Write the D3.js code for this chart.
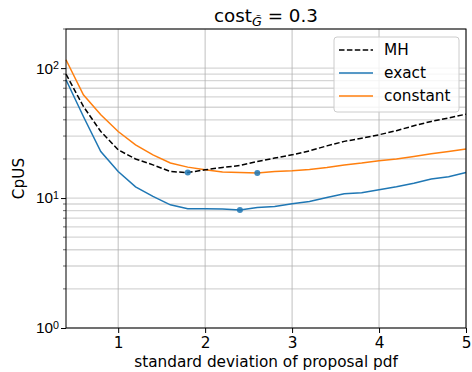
<!DOCTYPE html>
<html>
<head>
<meta charset="utf-8">
<script src="https://cdn.jsdelivr.net/npm/d3@7"></script>
<style>
  body { margin: 0; background: #fff; }
  svg { font-family: "DejaVu Sans", sans-serif; }
</style>
</head>
<body>
<svg id="chart" width="472" height="372"></svg>
<script>
var sigma = [0.4, 0.6, 0.8, 1.0, 1.2, 1.4, 1.6, 1.8, 2.0, 2.2, 2.4, 2.6,
             2.8, 3.0, 3.2, 3.4, 3.6, 3.8, 4.0, 4.2, 4.4, 4.6, 4.8, 5.0];
var mhValues = [89.9, 50.7, 32.5, 23.5, 20.0, 18.0, 16.0, 15.7, 16.5, 17.2, 17.8, 19.1,
                20.3, 21.5, 23.1, 25.2, 27.3, 28.9, 30.7, 33.0, 36.0, 38.9, 41.3, 44.2];
var exactValues = [81.3, 42.4, 22.8, 16.0, 12.2, 10.3, 8.87, 8.27, 8.27, 8.25, 8.09, 8.47,
                   8.6, 9.04, 9.4, 10.1, 10.8, 11.0, 11.6, 12.2, 13.0, 14.0, 14.6, 15.7];
var constantValues = [116, 62.4, 43.8, 32.5, 25.7, 21.5, 18.6, 17.3, 16.5, 15.9, 15.7, 15.6,
                      16.0, 16.2, 16.6, 17.2, 18.0, 18.6, 19.4, 20.0, 20.9, 21.9, 22.8, 23.9];
var seriesNames = ["MH", "exact", "constant"];
var xTicks = [1, 2, 3, 4, 5];
var yMajorTicks = [1, 10, 100];

(function () {
  var margin = {top: 29, right: 6, bottom: 44, left: 66};
  var width = 472 - margin.left - margin.right;
  var height = 372 - margin.top - margin.bottom;
  var fs = 15.3;

  var svg = d3.select("#chart");
  var vis = svg.append("g")
      .attr("transform", "translate(" + margin.left + "," + margin.top + ")");

  var xscale = d3.scaleLinear().domain([0.4, 5]).range([0, width]);
  var yscale = d3.scaleLog().domain([1, 200]).range([height, 0]);

  var minorTicks = [];
  [1, 10, 100].forEach(function (base) {
    for (var k = 2; k <= 9; k++) {
      if (base * k <= 200) minorTicks.push(base * k);
    }
  });
  var allY = yMajorTicks.concat(minorTicks);

  // horizontal grid (major + minor)
  vis.append("g").selectAll("line")
    .data(allY)
    .enter().append("line")
      .attr("x1", 0).attr("x2", width)
      .attr("y1", function (d) { return yscale(d); })
      .attr("y2", function (d) { return yscale(d); })
      .attr("stroke", "#d6d6d6")
      .attr("stroke-width", 1.3);

  // vertical grid
  vis.append("g").selectAll("line")
    .data(xTicks)
    .enter().append("line")
      .attr("x1", function (d) { return xscale(d); })
      .attr("x2", function (d) { return xscale(d); })
      .attr("y1", 0).attr("y2", height)
      .attr("stroke", "#b0b0b0")
      .attr("stroke-width", 0.8);

  var colours = {"MH": "#000000", "exact": "#1f77b4", "constant": "#ff7f0e"};
  var dashes = {"MH": "5.5,2.4", "exact": null, "constant": null};
  var values = {"MH": mhValues, "exact": exactValues, "constant": constantValues};

  var line = d3.line()
    .x(function (d) { return xscale(d[0]); })
    .y(function (d) { return yscale(d[1]); });

  ["exact", "constant", "MH"].forEach(function (name) {
    var pts = sigma.map(function (s, i) { return [s, values[name][i]]; });
    vis.append("path")
      .datum(pts)
      .attr("d", line)
      .attr("fill", "none")
      .attr("stroke", colours[name])
      .attr("stroke-width", 1.5)
      .attr("stroke-dasharray", dashes[name]);
  });

  // minima markers
  var minima = seriesNames.map(function (name) {
    var v = values[name];
    var i = d3.minIndex(v);
    return [sigma[i], v[i]];
  });
  vis.append("g").selectAll("circle")
    .data(minima)
    .enter().append("circle")
      .attr("cx", function (d) { return xscale(d[0]); })
      .attr("cy", function (d) { return yscale(d[1]); })
      .attr("r", 3)
      .attr("fill", "#1f77b4")
      .attr("fill-opacity", 0.85);

  // axes
  var xaxis = d3.axisBottom(xscale).tickValues(xTicks).tickSize(5).tickPadding(4)
    .tickFormat(d3.format("d"));
  var gx = vis.append("g")
    .attr("transform", "translate(0," + height + ")")
    .call(xaxis);
  gx.select(".domain").remove();
  gx.selectAll("text").attr("font-size", fs).attr("fill", "#000")
    .attr("font-family", "DejaVu Sans");

  var yaxis = d3.axisLeft(yscale).tickValues(yMajorTicks).tickSize(5).tickPadding(4)
    .tickFormat("");
  var gy = vis.append("g").call(yaxis);
  gy.select(".domain").remove();
  gy.selectAll(".tick").each(function (d) {
    var t = d3.select(this).append("text")
      .attr("x", -7).attr("dy", "0.32em")
      .attr("text-anchor", "end")
      .attr("font-size", fs).attr("fill", "#000");
    t.append("tspan").text("10");
    t.append("tspan").attr("dy", "-0.45em").attr("font-size", 10.7)
      .text(String(Math.round(Math.log10(d))));
  });
  vis.append("g").selectAll("line")
    .data(minorTicks)
    .enter().append("line")
      .attr("x1", -3).attr("x2", 0)
      .attr("y1", function (d) { return yscale(d); })
      .attr("y2", function (d) { return yscale(d); })
      .attr("stroke", "#000").attr("stroke-width", 0.6);

  // frame
  vis.append("rect")
    .attr("width", width).attr("height", height)
    .attr("fill", "none").attr("stroke", "#000").attr("stroke-width", 1);

  // legend
  var lg = vis.append("g").attr("transform", "translate(" + (width - 132) + ",8)");
  lg.append("rect")
    .attr("width", 125).attr("height", 75).attr("rx", 3)
    .attr("fill", "#fff").attr("fill-opacity", 0.8)
    .attr("stroke", "#cccccc").attr("stroke-width", 1);
  seriesNames.forEach(function (name, i) {
    var y = 13 + i * 23;
    lg.append("line")
      .attr("x1", 5).attr("x2", 39).attr("y1", y).attr("y2", y)
      .attr("stroke", colours[name]).attr("stroke-width", 1.5)
      .attr("stroke-dasharray", dashes[name]);
    lg.append("text")
      .attr("x", 50).attr("y", y).attr("dy", "0.35em")
      .attr("font-size", fs).attr("fill", "#000")
      .text(name);
  });

  // title
  var title = svg.append("text")
    .attr("x", margin.left + width / 2).attr("y", 22)
    .attr("text-anchor", "middle")
    .attr("font-size", 18.3).attr("fill", "#000");
  title.append("tspan").text("cost");
  title.append("tspan").attr("dy", 4).attr("font-size", 12.8)
    .attr("font-style", "italic").text("G\u0303");
  title.append("tspan").attr("dy", -4).text(" = 0.3");

  // axis labels
  svg.append("text")
    .attr("x", margin.left + width / 2).attr("y", 367)
    .attr("text-anchor", "middle")
    .attr("font-size", fs).attr("fill", "#000")
    .text("standard deviation of proposal pdf");

  svg.append("text")
    .attr("transform", "translate(24," + (margin.top + height / 2) + ") rotate(-90)")
    .attr("text-anchor", "middle")
    .attr("font-size", fs).attr("fill", "#000")
    .text("CpUS");
})();
</script>
</body>
</html>
